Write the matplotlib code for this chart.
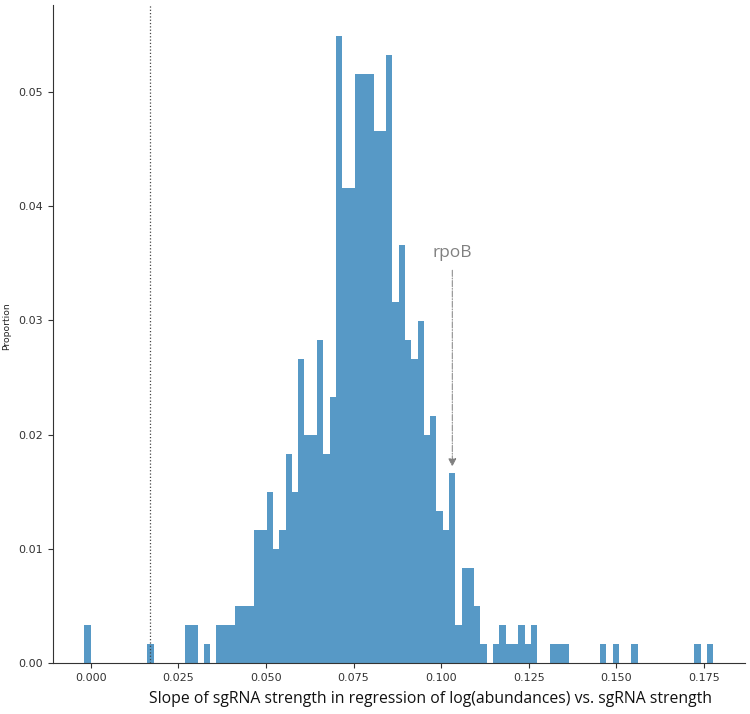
import matplotlib
matplotlib.use("Agg")
import matplotlib.pyplot as plt
import numpy as np

# histogram: 100 equal bins, counts per bin (total 601 guides)
bin_start = -0.00183
bin_width = 0.001795
counts = [
    2, 0, 0, 0, 0, 0, 0, 0, 0, 0,
    1, 0, 0, 0, 0, 0, 2, 2, 0, 1,
    0, 2, 2, 2, 3, 3, 3, 7, 7, 9,
    6, 7, 11, 9, 16, 12, 12, 17, 11, 14,
    33, 25, 25, 31, 31, 31, 28, 28, 32, 19,
    22, 17, 16, 18, 12, 13, 8, 7, 10, 2,
    5, 5, 3, 1, 0, 1, 2, 1, 1, 2,
    1, 2, 0, 0, 1, 1, 1, 0, 0, 0,
    0, 0, 1, 0, 1, 0, 0, 1, 0, 0,
    0, 0, 0, 0, 0, 0, 0, 1, 0, 1,
]
threshold = 0.0169
rpob_slope = 0.1032
rpob_label = "rpoB"

counts = np.array(counts, dtype=float)
proportion = counts / counts.sum()
lefts = bin_start + bin_width * np.arange(len(counts))

fig = plt.figure(figsize=(7.5, 7.14), dpi=100)
ax = fig.add_axes([0.0707, 0.0714, 0.922, 0.922])

ax.bar(lefts, proportion, width=bin_width, align="edge",
       color="#1f77b4", alpha=0.75, linewidth=0)

ax.axvline(threshold, color="#444444", linestyle=":", linewidth=0.9)

ax.text(rpob_slope, 0.0359, rpob_label, ha="center", va="center",
        fontsize=12.5, color="#808080", family=["Open Sans", "DejaVu Sans"])
ax.annotate("", xy=(rpob_slope, 0.0172), xytext=(rpob_slope, 0.0344),
            arrowprops=dict(arrowstyle="-|>", linestyle="-.", color="#808080",
                            lw=0.7, mutation_scale=12, shrinkA=0, shrinkB=0))

ax.set_xticks([0.0, 0.025, 0.05, 0.075, 0.1, 0.125, 0.15, 0.175])
ax.set_xticklabels(["0.000", "0.025", "0.050", "0.075", "0.100", "0.125", "0.150", "0.175"])
ax.set_yticks([0.0, 0.01, 0.02, 0.03, 0.04, 0.05])
ax.set_yticklabels(["0.00", "0.01", "0.02", "0.03", "0.04", "0.05"])
ax.tick_params(labelsize=8, colors="#333333")

ax.set_xlabel("Slope of sgRNA strength in regression of log(abundances) vs. sgRNA strength",
              fontsize=11.3, family=["Open Sans", "DejaVu Sans"], color="#111111")
ax.xaxis.set_label_coords(0.546, -0.043)
ax.set_ylabel("Proportion", fontsize=6.6,
              family=["Liberation Sans Narrow", "DejaVu Sans"], color="#222222")
ax.yaxis.set_label_coords(-0.060, 0.512)

for s in ["top", "right"]:
    ax.spines[s].set_visible(False)
for s in ["left", "bottom"]:
    ax.spines[s].set_color("#333333")

fig.savefig("out.png", dpi=100)
